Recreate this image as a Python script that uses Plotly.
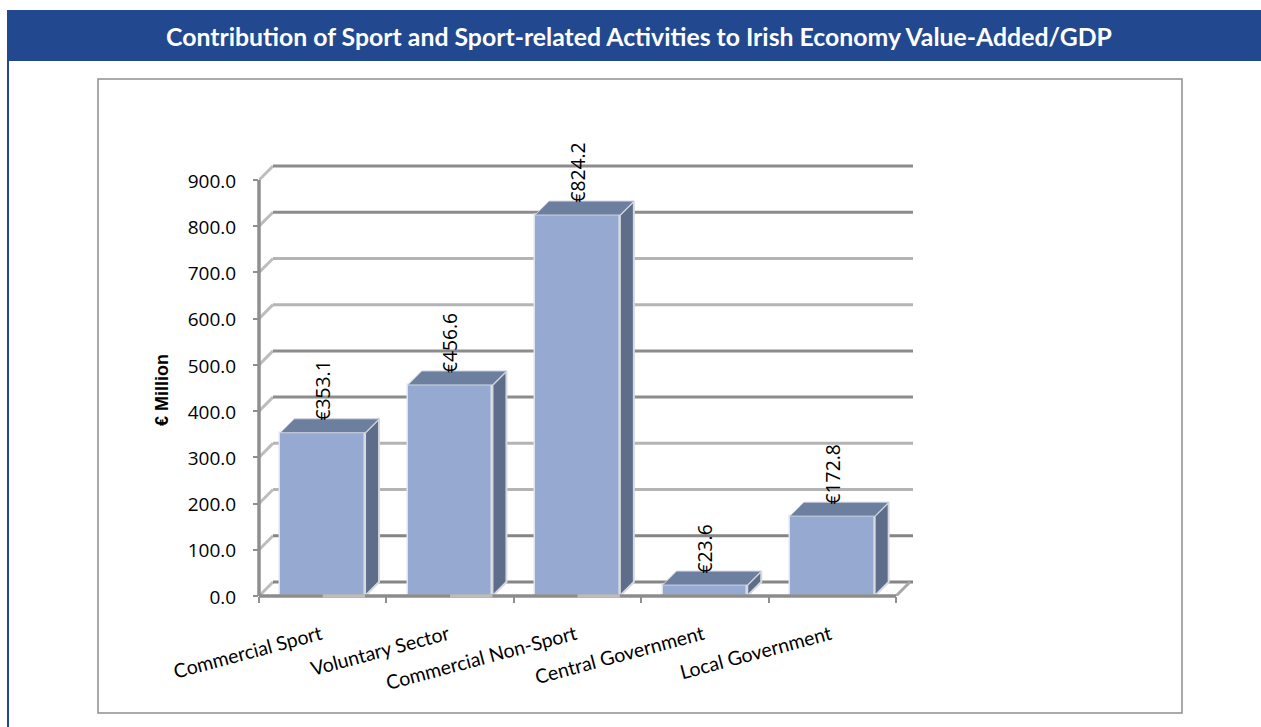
import plotly.graph_objects as go

categories = ["Commercial Sport", "Voluntary Sector", "Commercial Non-Sport", "Central Government", "Local Government"]
values = [353.1, 456.6, 824.2, 23.6, 172.8]
y_ticks = [0, 100, 200, 300, 400, 500, 600, 700, 800, 900]
grid_colors = ["#858585", "#858585", "#b4b4b4", "#b4b4b4", "#8c8c8c", "#8c8c8c", "#b4b4b4", "#b4b4b4", "#8c8c8c", "#8c8c8c"]

W, H = 1261, 727
PL, PR, PB, PT = 259, 913, 596, 160
YMAX = 900 * (PB - PT) / 416.0
CAT_PX = 127.4
XR = [-0.5, -0.5 + (PR - PL) / CAT_PX]
DX = 14 / CAT_PX
DY = 14 * YMAX / (PB - PT)
BW = 0.665

fig = go.Figure()
fig.add_trace(go.Bar(x=categories, y=values, width=BW, marker=dict(color="#96a9d1", line=dict(color="#dde3ef", width=1.5)),
                     hoverinfo="skip", showlegend=False))

for i, v in enumerate(values):
    l, r = i - BW / 2, i + BW / 2
    fig.add_trace(go.Scatter(x=[r, r + DX, r + DX, r, r], y=[0, DY, v + DY, v, 0], xaxis="x2", mode="lines", fill="toself",
                             fillcolor="#5e6d8a", line=dict(color="#d6d9df", width=2), hoverinfo="skip", showlegend=False))
    fig.add_trace(go.Scatter(x=[l, r, r + DX, l + DX, l], y=[v, v, v + DY, v + DY, v], xaxis="x2", mode="lines", fill="toself",
                             fillcolor="#6d7f9e", line=dict(color="#ced5e2", width=1), hoverinfo="skip", showlegend=False))

shapes = [
    dict(type="rect", xref="paper", yref="paper", x0=7 / W, x1=1, y0=1 - 61 / H, y1=1 - 10 / H,
         fillcolor="#22488f", line=dict(width=0), layer="below"),
    dict(type="rect", xref="paper", yref="paper", x0=7 / W, x1=9 / W, y0=0, y1=1 - 61 / H,
         fillcolor="#22488f", line=dict(width=0), layer="below"),
    dict(type="rect", xref="paper", yref="paper", x0=98 / W, x1=1182 / W, y0=1 - 713 / H, y1=1 - 79 / H,
         fillcolor="rgba(0,0,0,0)", line=dict(color="#8f8f8f", width=1.5), layer="below"),
]
for t, c in zip(y_ticks, grid_colors):
    shapes.append(dict(type="line", xref="x", yref="y", x0=-0.5, x1=-0.5 + DX, y0=t, y1=t + DY,
                       line=dict(color="#bdbdbd", width=3), layer="below"))
    shapes.append(dict(type="line", xref="x", yref="y", x0=-0.5 + DX, x1=XR[1], y0=t + DY, y1=t + DY,
                       line=dict(color=c, width=3), layer="below"))
shapes.append(dict(type="line", xref="x", yref="y", x0=4.5, x1=4.5 + DX, y0=0, y1=DY,
                   line=dict(color="#a8a8a8", width=3), layer="below"))
# axis lines (paper reference on one side so they are not clipped at the plot edge)
shapes.append(dict(type="line", xref="paper", yref="y", x0=PL / W, x1=PL / W, y0=0, y1=900,
                   line=dict(color="#8f8f8f", width=3.5), layer="above"))
shapes.append(dict(type="line", xref="x", yref="paper", x0=-0.5, x1=4.5, y0=1 - PB / H, y1=1 - PB / H,
                   line=dict(color="#8c8c8c", width=3.5), layer="above"))
for i in range(3):
    shapes.append(dict(type="line", xref="x", yref="paper", x0=i, x1=i + BW / 2, y0=1 - PB / H, y1=1 - PB / H,
                       line=dict(color="#bdbdbd", width=3.5), layer="above"))

annotations = [
    dict(text="<b>Contribution of Sport and Sport-related Activities to Irish Economy Value-Added/GDP</b>",
         xref="paper", yref="paper", x=639 / W, y=1 - 37 / H, showarrow=False, xanchor="center", yanchor="middle",
         font=dict(family="Lato", size=24.8, color="white")),
    dict(text="<b>€ Million</b>", xref="paper", yref="paper", x=162 / W, y=1 - 390 / H, showarrow=False, textangle=-90,
         xanchor="center", yanchor="middle", font=dict(family="Liberation Sans", size=18, color="black")),
]
for i, v in enumerate(values):
    annotations.append(dict(text=f"€{v:.1f}", x=i, y=v, xref="x", yref="y", textangle=-90, showarrow=False,
                            xanchor="center", yanchor="bottom", yshift=10,
                            font=dict(family="Open Sans", size=19.3, color="black")))

fig.update_layout(
    template="none",
    width=W, height=H, margin=dict(l=0, r=0, t=0, b=0, pad=0, autoexpand=False), paper_bgcolor="white", plot_bgcolor="rgba(0,0,0,0)",
    showlegend=False, shapes=shapes, annotations=annotations, bargap=0,
    xaxis=dict(domain=[PL / W, PR / W], type="category", categoryorder="array", categoryarray=categories, automargin=False,
               range=XR, tickson="boundaries", ticks="outside", ticklen=6, tickwidth=1.5, tickcolor="#8f8f8f",
               showgrid=False, zeroline=False, showline=False, tickangle=-15, ticklabelstandoff=23, ticklabelshift=-2,
               tickfont=dict(family="Lato", size=19.5, color="black")),
    xaxis2=dict(domain=[PL / W, PR / W], overlaying="x", anchor="y", range=XR, visible=False, type="linear"),
    yaxis=dict(domain=[1 - PB / H, 1 - PT / H], range=[0, YMAX], tickvals=y_ticks, ticktext=[f"{t:.1f}" for t in y_ticks], automargin=False,
               ticks="outside", ticklen=5, tickwidth=1.5, tickcolor="#8f8f8f", showgrid=False, zeroline=False, showline=False,
               ticklabelstandoff=13, ticklabelshift=1, tickfont=dict(family="Open Sans", size=19, color="black")),
)

fig.write_html("out.html", config=dict(displayModeBar=False), post_script="document.body.style.margin='0';")
